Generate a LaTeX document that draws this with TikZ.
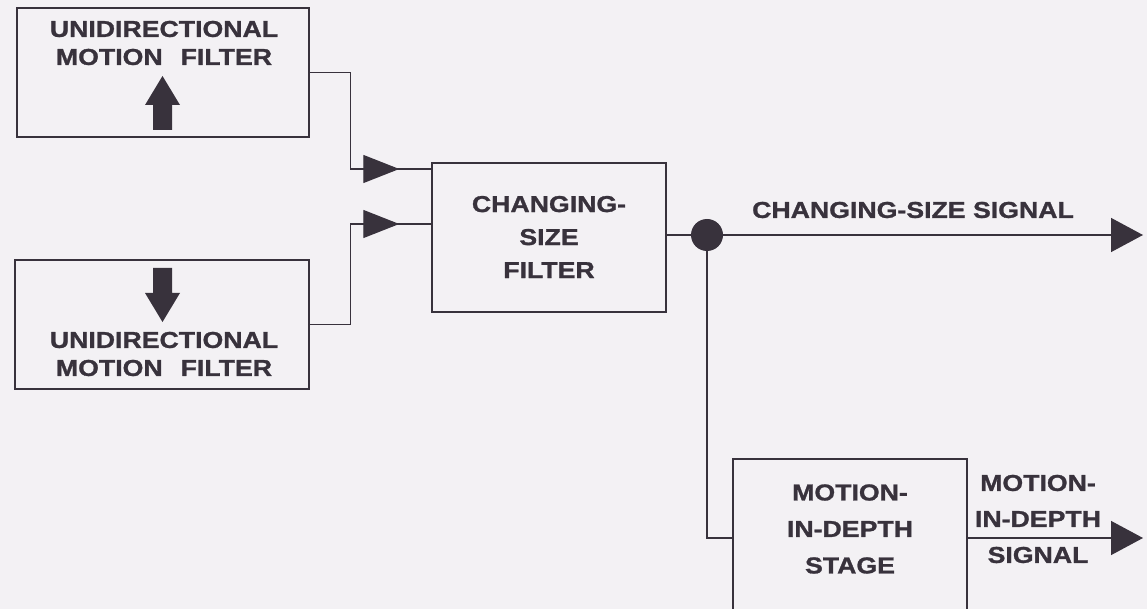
\documentclass[tikz,border=0pt]{standalone}
\usepackage{fontspec}
\newfontfamily\lab{Liberation Sans Bold}[FakeStretch=1.16,FakeBold=1.2]
\usetikzlibrary{arrows.meta,decorations.markings}
\definecolor{ink}{HTML}{38323C}
\definecolor{paper}{HTML}{F3F1F4}
\begin{document}
\begin{tikzpicture}[x=1pt,y=-1pt,
  box/.style={draw=ink,line width=1.5pt,rectangle,inner sep=0pt},
  txt/.style={text=ink,align=center,inner sep=0pt},
  conn/.style={draw=ink,line width=1.4pt},
  midtri/.style={postaction={decorate},decoration={markings,
      mark=at position -32pt with {\arrow[ink]{Triangle[length=36pt,width=28pt]}}}},
  outtri/.style={-{Triangle[length=32pt,width=34pt]}},
  blockarrow/.style={fill=ink}]
\fill[paper] (0,0) rectangle (1147,609);
\useasboundingbox (0,0) rectangle (1147,609);
\clip (0,0) rectangle (1147,609);

% boxes
\node[box,minimum width=292pt,minimum height=129pt] (uf1) at (163,72.5) {};
\node[box,minimum width=294pt,minimum height=129pt] (uf2) at (162,324.5) {};
\node[box,minimum width=234pt,minimum height=149pt] (cs) at (549,237.5) {};
\node[box,minimum width=234pt,minimum height=170pt] (mid) at (850,544) {};

% texts
\node[txt,font=\lab\fontsize{23}{28}\selectfont] (t1) at (164,43) {UNIDIRECTIONAL\\MOTION\hspace*{18pt}FILTER};
\node[txt,font=\lab\fontsize{23}{28}\selectfont] (t2) at (164,354) {UNIDIRECTIONAL\\MOTION\hspace*{18pt}FILTER};
\node[txt,font=\lab\fontsize{23}{33}\selectfont] (t3) at (549,237) {CHANGING-\\SIZE\\FILTER};
\node[txt,font=\lab\fontsize{23}{36.5}\selectfont] (t4) at (850,529) {MOTION-\\IN-DEPTH\\STAGE};
\node[txt,font=\lab\fontsize{23}{36}\selectfont] (t5) at (1038,519) {MOTION-\\IN-DEPTH\\SIGNAL};
\node[txt,font=\lab\fontsize{23}{28}\selectfont] (t6) at (913,210) {CHANGING-SIZE SIGNAL};

% block arrows inside the filter boxes
\fill[blockarrow] (153,130) -- (153,105) -- (145,105) -- (162.5,76) -- (180,105) -- (172,105) -- (172,130) -- cycle;
\fill[blockarrow] (153,268) -- (153,293) -- (145,293) -- (162.5,322) -- (180,293) -- (172,293) -- (172,268) -- cycle;

% junction dot
\node[circle,fill=ink,minimum size=32pt,inner sep=0pt] (dot) at (707,235) {};
\coordinate (o1) at (1143,235);
\coordinate (o2) at (1143,538);

% connectors
\draw[conn,midtri] (uf1.east) -- ++(41,0) |- ([yshift=68.5pt]cs.west);
\draw[conn,midtri] (uf2.east) -- ++(41,0) |- ([yshift=13.5pt]cs.west);
\draw[conn] ([yshift=2.5pt]cs.east) -- (dot);
\draw[conn,outtri] (dot) -- (o1);
\draw[conn] (dot) |- ([yshift=6pt]mid.west);
\draw[conn,outtri] ([yshift=6pt]mid.east) -- (o2);
\end{tikzpicture}
\end{document}
